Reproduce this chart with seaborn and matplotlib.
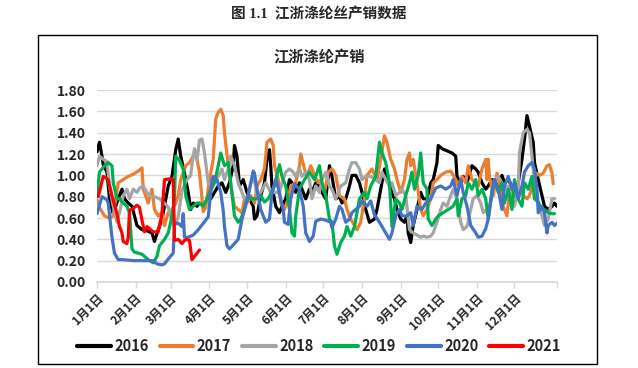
import numpy as np
import pandas as pd
import matplotlib
matplotlib.use("Agg")
import matplotlib.pyplot as plt
import seaborn as sns
from matplotlib.patches import Rectangle

# day of year (0 = 1月1日) and 产销率
days_2016 = [0, 2, 4, 5, 8, 10, 13, 17, 20, 22, 25, 28, 32, 36, 40, 44, 46, 49, 52, 54,
             57, 60, 63, 65, 67, 70, 73, 75, 77, 80, 82, 86, 89, 91, 94, 97, 100, 103, 106, 109,
             110, 112, 114, 117, 120, 122, 125, 126, 128, 131, 134, 136, 138, 139, 140, 143, 146, 148, 151, 154,
             156, 159, 162, 164, 167, 170, 172, 175, 178, 180, 183, 186, 188, 191, 194, 196, 199, 202, 204, 207,
             210, 212, 215, 218, 222, 224, 227, 230, 232, 235, 238, 240, 243, 246, 248, 249, 251, 253, 256, 259,
             261, 264, 267, 269, 272, 273, 276, 280, 284, 287, 288, 291, 293, 296, 300, 303, 305, 308, 311, 313,
             316, 318, 321, 324, 326, 329, 332, 334, 337, 340, 342, 344, 346, 349, 350, 353, 356, 358, 361, 364,
             366, 368]
vals_2016 = [1.22, 1.31, 1.18, 1.10, 1.03, 0.78, 0.64, 0.78, 0.87, 0.78, 0.74, 0.71, 0.53, 0.49, 0.48, 0.46, 0.38, 0.49, 0.59, 0.71,
             0.90, 0.99, 1.24, 1.34, 1.18, 1.02, 0.84, 0.68, 0.74, 0.71, 0.74, 0.71, 0.81, 0.78, 0.84, 0.90, 0.93, 0.84, 0.93, 1.09,
             1.28, 1.18, 0.90, 0.96, 0.84, 0.78, 0.71, 0.59, 0.62, 0.81, 0.93, 1.15, 1.24, 1.09, 0.90, 0.71, 0.65, 0.71, 0.78, 0.96,
             0.93, 0.84, 0.93, 0.87, 0.78, 0.87, 0.84, 0.93, 0.90, 0.84, 0.78, 1.09, 0.99, 0.78, 0.80, 0.74, 0.78, 0.90, 1.00, 1.00,
             0.93, 0.84, 0.68, 0.56, 0.59, 0.68, 0.87, 1.06, 0.96, 0.87, 0.78, 0.68, 0.59, 0.56, 0.62, 0.46, 0.37, 0.53, 0.68, 0.84,
             0.78, 0.78, 0.93, 0.96, 1.12, 1.28, 1.25, 1.23, 1.21, 1.18, 0.99, 0.93, 0.99, 0.93, 1.09, 1.06, 1.03, 0.93, 0.87, 0.90,
             0.96, 0.93, 0.90, 1.00, 0.93, 0.96, 0.90, 0.81, 0.93, 1.15, 1.34, 1.56, 1.46, 1.31, 1.12, 0.96, 0.81, 0.71, 0.68, 0.71,
             0.74, 0.71]

days_2017 = [0, 2, 6, 10, 13, 17, 21, 25, 29, 33, 36, 37, 38, 41, 44, 46, 49, 52, 54, 57,
             60, 63, 65, 67, 71, 74, 77, 79, 82, 85, 87, 90, 93, 95, 97, 99, 101, 102, 105, 108,
             110, 113, 116, 118, 121, 123, 126, 128, 131, 134, 136, 139, 141, 142, 145, 147, 150, 153, 155, 159,
             162, 163, 166, 168, 171, 174, 177, 179, 182, 185, 188, 191, 194, 198, 200, 203, 206, 208, 211, 214,
             216, 220, 224, 227, 230, 232, 235, 238, 240, 243, 246, 248, 250, 251, 253, 256, 259, 261, 264, 267,
             269, 272, 275, 279, 283, 287, 289, 292, 295, 297, 300, 303, 305, 308, 311, 312, 313, 314, 317, 320,
             322, 325, 328, 330, 333, 336, 338, 341, 344, 346, 349, 352, 354, 357, 360, 362, 364, 365]
vals_2017 = [0.77, 0.70, 0.62, 0.60, 0.62, 0.93, 0.96, 0.99, 1.01, 1.04, 1.07, 0.87, 0.84, 0.74, 0.87, 0.68, 0.62, 0.65, 0.53, 0.65,
             0.68, 0.74, 0.81, 0.96, 1.09, 1.12, 1.18, 1.21, 1.03, 0.66, 0.70, 0.96, 1.15, 1.53, 1.59, 1.62, 1.56, 1.40, 1.09, 0.84,
             0.71, 0.68, 0.65, 0.78, 0.75, 0.81, 0.74, 0.90, 0.96, 1.06, 1.31, 1.34, 1.28, 1.09, 0.96, 0.74, 0.68, 0.78, 0.90, 0.93,
             1.09, 1.20, 1.06, 0.99, 1.09, 1.00, 0.93, 0.96, 0.84, 1.03, 1.06, 1.00, 0.81, 0.78, 0.68, 0.59, 0.53, 0.49, 0.56, 0.78,
             1.00, 1.06, 0.96, 1.15, 1.37, 1.31, 1.15, 1.06, 0.96, 0.84, 0.96, 1.15, 1.21, 1.09, 1.15, 0.93, 0.68, 0.62, 0.68, 0.78,
             0.93, 0.96, 1.00, 1.03, 1.04, 0.96, 0.90, 0.99, 0.93, 1.09, 0.96, 0.93, 0.90, 1.06, 1.15, 0.96, 1.15, 0.99, 0.81, 1.02,
             0.93, 0.71, 0.62, 0.84, 0.90, 0.78, 0.87, 0.81, 0.78, 0.81, 0.93, 1.02, 1.00, 1.02, 1.09, 1.10, 1.02, 0.92]

days_2018 = [0, 2, 5, 8, 10, 13, 16, 18, 21, 24, 26, 29, 32, 34, 37, 40, 42, 46, 50, 54,
             57, 60, 62, 65, 68, 72, 75, 76, 78, 80, 82, 84, 86, 89, 91, 94, 97, 100, 102, 105,
             107, 110, 113, 115, 118, 121, 123, 126, 128, 131, 135, 139, 142, 146, 148, 151, 154, 157, 159, 162,
             164, 167, 170, 172, 175, 178, 180, 183, 186, 188, 191, 195, 199, 202, 204, 207, 210, 212, 215, 219,
             223, 226, 228, 231, 234, 236, 239, 242, 244, 247, 250, 253, 256, 259, 261, 264, 267, 269, 272, 275,
             277, 280, 283, 285, 288, 291, 293, 296, 299, 301, 304, 307, 309, 312, 313, 316, 318, 321, 324, 326,
             329, 332, 334, 337, 338, 341, 344, 346, 348, 350, 353, 356, 358, 361, 364, 366]
vals_2018 = [1.09, 1.18, 1.15, 1.13, 0.90, 0.71, 0.56, 0.65, 0.81, 0.87, 0.78, 0.87, 0.84, 0.88, 0.90, 0.84, 0.81, 0.80, 0.78, 0.74,
             0.70, 0.58, 0.52, 0.61, 0.86, 0.96, 1.00, 1.10, 1.25, 1.14, 1.33, 1.34, 1.21, 0.93, 0.90, 0.96, 0.99, 1.06, 0.96, 1.06,
             1.18, 1.09, 0.93, 0.87, 0.78, 0.81, 0.93, 0.96, 0.81, 0.84, 0.93, 0.84, 0.84, 0.84, 0.93, 1.03, 1.06, 1.03, 0.99, 1.06,
             0.99, 1.03, 0.96, 0.78, 0.90, 0.84, 0.96, 1.03, 0.90, 0.87, 0.78, 0.90, 0.93, 1.06, 1.12, 1.12, 1.06, 0.96, 0.99, 0.99,
             0.96, 0.93, 1.03, 0.96, 0.90, 0.93, 0.81, 0.84, 0.87, 0.81, 0.49, 0.46, 0.44, 0.42, 0.43, 0.42, 0.43, 0.46, 0.56, 0.68,
             0.74, 0.71, 0.81, 0.87, 0.78, 0.56, 0.49, 0.52, 0.68, 0.78, 0.81, 0.74, 0.65, 0.68, 0.65, 0.84, 0.96, 0.99, 0.93, 0.87,
             0.90, 0.78, 0.71, 0.87, 1.21, 1.40, 1.43, 1.40, 1.18, 0.93, 0.74, 0.62, 0.53, 0.59, 0.78, 0.78]

days_2019 = [0, 2, 4, 6, 9, 12, 13, 16, 18, 21, 24, 26, 28, 30, 36, 41, 45, 48, 50, 54,
             57, 60, 62, 63, 66, 69, 71, 74, 77, 80, 82, 85, 88, 90, 94, 97, 99, 102, 105, 107,
             110, 113, 115, 118, 121, 123, 126, 128, 131, 134, 137, 142, 146, 148, 151, 154, 156, 158, 159, 162,
             166, 170, 174, 178, 180, 183, 186, 188, 190, 192, 195, 198, 200, 203, 206, 210, 214, 216, 219, 223,
             226, 228, 231, 234, 236, 239, 242, 244, 247, 250, 252, 254, 257, 259, 261, 264, 265, 268, 271, 273,
             277, 281, 285, 288, 289, 292, 295, 297, 300, 303, 305, 308, 311, 313, 316, 318, 321, 324, 326, 329,
             332, 334, 337, 340, 342, 345, 348, 350, 353, 356, 358, 361, 364, 366]
vals_2019 = [0.81, 1.03, 1.06, 1.09, 1.12, 1.09, 0.93, 0.78, 0.78, 0.74, 0.71, 0.65, 0.31, 0.28, 0.26, 0.21, 0.18, 0.24, 0.34, 0.40,
             0.46, 0.62, 0.78, 1.18, 1.14, 1.06, 0.81, 0.68, 0.71, 0.74, 0.74, 0.71, 0.78, 0.84, 0.93, 1.09, 1.21, 1.09, 1.12, 0.93,
             0.62, 0.56, 0.59, 0.68, 0.81, 0.78, 0.78, 0.78, 0.81, 0.75, 0.78, 0.90, 1.10, 0.99, 0.90, 0.68, 0.46, 0.43, 0.62, 0.87,
             0.96, 1.03, 0.96, 1.09, 0.93, 0.81, 0.59, 0.56, 0.34, 0.26, 0.37, 0.43, 0.52, 0.43, 0.52, 0.78, 0.84, 0.78, 0.90, 0.99,
             1.31, 1.21, 1.12, 0.93, 0.52, 0.78, 0.74, 0.68, 0.81, 0.93, 1.03, 0.87, 1.00, 1.21, 0.93, 0.87, 0.59, 0.53, 0.59, 0.62,
             0.65, 0.68, 0.71, 0.78, 0.62, 0.78, 0.81, 0.93, 0.87, 0.96, 0.81, 0.87, 0.78, 0.59, 0.84, 0.96, 0.84, 0.93, 0.74, 0.87,
             0.68, 0.96, 0.78, 0.71, 0.93, 0.87, 0.99, 0.78, 0.75, 0.68, 0.68, 0.65, 0.64, 0.64]

days_2020 = [0, 4, 8, 9, 12, 14, 17, 20, 30, 40, 45, 48, 52, 54, 58, 61, 62, 65, 68, 69,
             70, 73, 77, 81, 85, 89, 92, 93, 96, 99, 101, 102, 104, 106, 110, 113, 116, 119, 122, 125,
             126, 128, 131, 135, 138, 140, 143, 144, 149, 150, 153, 155, 158, 162, 165, 167, 170, 173, 175, 179,
             183, 187, 188, 191, 194, 196, 199, 202, 204, 210, 212, 216, 219, 222, 226, 230, 234, 236, 239, 242,
             244, 248, 251, 253, 256, 260, 263, 267, 271, 275, 279, 283, 285, 288, 291, 293, 296, 299, 303, 305,
             308, 311, 313, 316, 318, 321, 324, 326, 329, 332, 334, 337, 340, 342, 345, 348, 350, 352, 353, 356,
             358, 360, 361, 364, 366, 368]
vals_2020 = [0.64, 0.80, 0.77, 0.74, 0.42, 0.27, 0.21, 0.21, 0.20, 0.20, 0.20, 0.17, 0.16, 0.17, 0.23, 0.27, 0.55, 0.55, 0.52, 0.64,
             0.42, 0.42, 0.44, 0.49, 0.55, 0.61, 0.95, 0.99, 0.96, 0.84, 0.67, 0.52, 0.34, 0.31, 0.36, 0.40, 0.59, 0.72, 0.87, 1.04,
             1.02, 0.87, 0.68, 0.56, 0.59, 0.84, 0.96, 0.93, 0.68, 0.56, 0.54, 0.78, 0.92, 0.87, 0.71, 0.46, 0.38, 0.43, 0.57, 0.59,
             0.58, 0.56, 0.51, 0.59, 0.71, 0.68, 0.56, 0.59, 0.65, 0.71, 0.76, 0.71, 0.76, 0.63, 0.56, 0.48, 0.40, 0.46, 0.62, 0.68,
             0.62, 0.62, 0.65, 0.53, 0.71, 0.68, 0.74, 0.78, 0.88, 0.90, 0.87, 0.90, 0.96, 0.81, 0.96, 0.84, 0.71, 0.53, 0.46, 0.42,
             0.43, 0.50, 0.59, 0.84, 0.96, 0.87, 0.68, 0.90, 0.99, 0.87, 0.93, 0.78, 0.90, 1.03, 1.09, 1.12, 1.06, 0.87, 0.65, 0.71,
             0.65, 0.46, 0.53, 0.56, 0.53, 0.55]

days_2021 = [1, 5, 9, 12, 16, 18, 20, 21, 24, 25, 26, 29, 32, 34, 36, 38, 40, 45, 49, 52,
             53, 54, 60, 61, 62, 65, 68, 70, 72, 74, 76, 78, 82]
vals_2021 = [0.80, 0.99, 0.96, 0.81, 0.64, 0.52, 0.46, 0.38, 0.36, 0.42, 0.67, 0.69, 0.72, 0.70, 0.58, 0.47, 0.52, 0.47, 0.47, 0.64,
             0.80, 0.96, 0.97, 0.96, 0.39, 0.40, 0.36, 0.39, 0.40, 0.39, 0.21, 0.24, 0.30]

years = ["2016", "2017", "2018", "2019", "2020", "2021"]
colors = ["#000000", "#ED7D31", "#A5A5A5", "#00B050", "#4472C4", "#FF0000"]
month_days = [0, 31, 59, 90, 120, 151, 181, 212, 243, 273, 304, 334]
month_labels = ["1月1日", "2月1日", "3月1日", "4月1日", "5月1日", "6月1日",
                "7月1日", "8月1日", "9月1日", "10月1日", "11月1日", "12月1日"]

series = {
    "2016": (days_2016, vals_2016), "2017": (days_2017, vals_2017),
    "2018": (days_2018, vals_2018), "2019": (days_2019, vals_2019),
    "2020": (days_2020, vals_2020), "2021": (days_2021, vals_2021),
}
frames = []
for y in years:
    d, v = series[y]
    frames.append(pd.DataFrame({"day": d, "value": v, "year": y}))
df = pd.concat(frames, ignore_index=True)

sns.set_theme(style="white")
plt.rcParams["font.family"] = ["Noto Sans CJK SC", "DejaVu Sans"]

fig = plt.figure(figsize=(6.38, 3.68), dpi=100)
ax = fig.add_axes([0.152, 0.2337, 0.721, 0.5217])

sns.lineplot(data=df, x="day", y="value", hue="year", hue_order=years,
             palette=dict(zip(years, colors)), estimator=None, linewidth=2.3, ax=ax)

ax.set_xlim(0, 368)
ax.set_ylim(0, 1.8)
ax.set_yticks(np.arange(0, 1.81, 0.2))
ax.set_yticklabels([f"{t:.2f}" for t in np.arange(0, 1.81, 0.2)],
                   fontsize=10, fontweight="bold")
ax.yaxis.grid(True, color="#D9D9D9", linewidth=1)
ax.set_axisbelow(True)
ax.set_xticks(month_days + [368])
ax.set_xticklabels(month_labels + [""], rotation=45, ha="right",
                   rotation_mode="anchor", fontsize=8.5, fontweight="bold")
ax.tick_params(axis="x", direction="out", length=4, color="#D9D9D9", width=1, pad=3, bottom=True)
ax.tick_params(axis="y", length=0, pad=8)
for s in ["left", "right", "top"]:
    ax.spines[s].set_visible(False)
ax.spines["bottom"].set_color("#D9D9D9")
ax.set_xlabel("")
ax.set_ylabel("")

handles, labels = ax.get_legend_handles_labels()
ax.get_legend().remove()
for h in handles:
    h.set_linewidth(3)
fig.legend(handles, labels, loc="center", bbox_to_anchor=(0.5, 0.06), ncol=6,
           frameon=False, handlelength=2.3, handletextpad=0.25, columnspacing=0.75,
           prop={"size": 10.5, "weight": "bold"})

fig.text(0.5, 0.845, "江浙涤纶产销", ha="center", va="center", fontsize=11, fontweight="bold")
fig.text(0.5, 0.962, "图 1.1  江浙涤纶丝产销数据", ha="center", va="center", fontsize=10.5,
         fontweight="bold", family=["Liberation Serif", "Noto Sans CJK SC"])
fig.patches.append(Rectangle((38 / 638, 4 / 368), 559 / 638, 329 / 368, transform=fig.transFigure,
                             fill=False, edgecolor="black", linewidth=1))

fig.savefig("out.png", dpi=100)
